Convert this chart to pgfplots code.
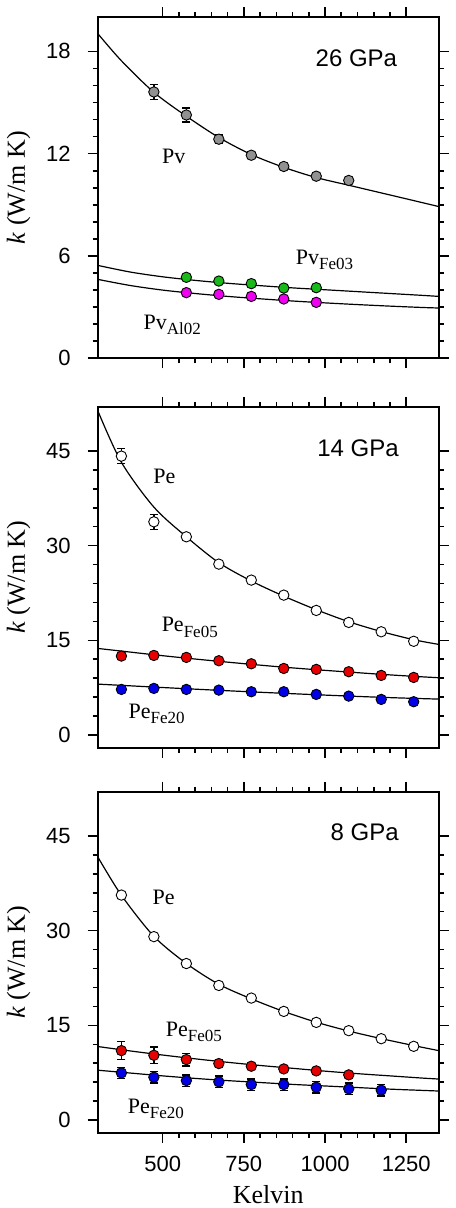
\documentclass[border=0pt]{standalone}
\usepackage{fontspec}
\setmainfont{Liberation Serif}
\setsansfont{Liberation Sans}
\usepackage{pgfplots}
\pgfplotsset{compat=1.18}
\definecolor{pvgray}{RGB}{145,145,145}
\definecolor{pvgreen}{RGB}{25,185,25}
\definecolor{pvmag}{RGB}{240,0,240}
\definecolor{pered}{RGB}{230,0,0}
\definecolor{peblue}{RGB}{0,0,230}
\tikzset{
  lab/.style={anchor=base west, inner sep=0pt, font=\fontsize{11}{13}\selectfont},
  gpa/.style={anchor=base west, inner sep=0pt, font=\sffamily\fontsize{12}{14}\selectfont},
}
\pgfplotsset{
  panel/.style={
    scale only axis, width=170.5pt, height=170.5pt,
    anchor=north west,
    xmin=300, xmax=1350,
    xtick={500,750,1000,1250}, minor x tick num=4,
    tick align=outside,
    major tick length=5pt, minor tick length=2.5pt,
    every tick/.style={black, line width=0.8pt},
    axis line style={line width=1pt},
    tick label style={font=\sffamily\fontsize{11}{13}\selectfont},
    yticklabel style={xshift=-5pt},
    xticklabel style={yshift=-3pt},
    /pgf/number format/assume math mode=true,
    /pgf/number format/set thousands separator={},
    ylabel={\textit{k} (W/m K)},
    every axis y label/.style={at={(axis description cs:-0.2135,0.5)}, rotate=90, anchor=base, font=\fontsize{13}{15}\selectfont},
    every axis x label/.style={at={(axis description cs:0.5,-0.2082)}, anchor=base, font=\fontsize{13}{15}\selectfont},
  },
  curve/.style={black, line width=0.6pt, smooth, mark=none},
  ebar/.style={draw=none, mark=none, forget plot,
    error bars/.cd, y dir=both, y explicit,
    error bar style={draw=black, line width=0.7pt},
    error mark options={draw=black, rotate=90, mark size=2pt, line width=0.7pt}},
  pts/.style={only marks, mark=*, mark size=2.6pt, mark options={draw=black, line width=0.45pt, fill=#1}},
}
\newcommand{\sub}[1]{\raisebox{-2.6pt}{\fontsize{8.5}{10}\selectfont #1}}
\begin{document}
\begin{tikzpicture}
\path[use as bounding box] (-48.85pt,8.65pt) rectangle (178.65pt,-595.35pt);
% ---------- 26 GPa ----------
\begin{axis}[panel, at={(0pt,0pt)}, ymin=0, ymax=20, ytick={0,6,12,18}, minor y tick num=5, xticklabels={}]
\addplot[curve] coordinates {(300,19.05)(373,17.45)(473,15.6)(573,14.2)(673,12.95)(773,11.95)(873,11.2)(973,10.6)(1073,10.15)(1173,9.7)(1273,9.25)(1350,8.9)};
\addplot[curve] coordinates {(300,5.45)(400,5.06)(500,4.78)(600,4.57)(700,4.4)(800,4.26)(900,4.13)(1000,4.02)(1100,3.91)(1200,3.8)(1300,3.69)(1350,3.63)};
\addplot[curve] coordinates {(300,4.63)(400,4.27)(500,4.0)(600,3.8)(700,3.63)(800,3.49)(900,3.36)(1000,3.25)(1100,3.15)(1200,3.06)(1300,2.98)(1350,2.95)};
\addplot[ebar] coordinates {(473,15.62) +- (0,0.45) (573,14.27) +- (0,0.41) (673,12.85) +- (0,0.26) (773,11.91) +- (0,0.2)};
\addplot[pts=pvgray] coordinates {(473,15.62)(573,14.27)(673,12.85)(773,11.91)(873,11.25)(973,10.68)(1073,10.43)};
\addplot[pts=pvgreen] coordinates {(573,4.75)(673,4.53)(773,4.38)(873,4.12)(973,4.14)};
\addplot[pts=pvmag] coordinates {(573,3.85)(673,3.75)(773,3.63)(873,3.48)(973,3.28)};
\node[gpa] at (axis cs:970,17.1) {26 GPa};
\node[lab] at (axis cs:497,11.42) {Pv};
\node[lab] at (axis cs:909,5.5) {Pv\sub{Fe03}};
\node[lab] at (axis cs:440,1.7) {Pv\sub{Al02}};
\end{axis}
% ---------- 14 GPa ----------
\begin{axis}[panel, at={(0pt,-194.7pt)}, ymin=-2, ymax=52, ytick={0,15,30,45}, minor y tick num=4, xticklabels={}]
\addplot[curve] coordinates {(300,51.4)(373,43.2)(473,36.1)(573,31.4)(673,27.3)(773,24.4)(873,22.0)(973,19.85)(1073,17.95)(1173,16.4)(1273,15.1)(1350,14.36)};
\addplot[curve] coordinates {(300,13.72)(373,13.3)(473,12.72)(573,12.18)(673,11.68)(773,11.2)(873,10.75)(973,10.35)(1073,9.98)(1173,9.62)(1273,9.3)(1350,9.08)};
\addplot[curve] coordinates {(300,8.07)(400,7.8)(500,7.53)(600,7.27)(700,7.02)(800,6.78)(900,6.55)(1000,6.33)(1100,6.12)(1200,5.93)(1300,5.77)(1350,5.70)};
\addplot[ebar] coordinates {(373,44.17) +- (0,1.2) (473,33.77) +- (0,1.2)};
\addplot[pts=white] coordinates {(373,44.17)(473,33.77)(573,31.4)(673,27.07)(773,24.54)(873,22.16)(973,19.74)(1073,17.84)(1173,16.36)(1273,14.85)};
\addplot[pts=pered] coordinates {(373,12.51)(473,12.61)(573,12.3)(673,11.77)(773,11.29)(873,10.55)(973,10.4)(1073,10.03)(1173,9.45)(1273,9.13)};
\addplot[pts=peblue] coordinates {(373,7.23)(473,7.39)(573,7.23)(673,7.12)(773,6.86)(873,6.86)(973,6.44)(1073,6.17)(1173,5.65)(1273,5.28)};
\node[gpa] at (axis cs:975,44.16) {14 GPa};
\node[lab] at (axis cs:470,39.8) {Pe};
\node[lab] at (axis cs:496,16.35) {Pe\sub{Fe05}};
\node[lab] at (axis cs:394,2.64) {Pe\sub{Fe20}};
\end{axis}
% ---------- 8 GPa ----------
\begin{axis}[panel, at={(0pt,-387.2pt)}, ymin=-2, ymax=52, ytick={0,15,30,45}, minor y tick num=4, xlabel={Kelvin}]
\addplot[curve] coordinates {(300,41.7)(373,35.6)(473,29.1)(573,24.8)(673,21.5)(773,19.2)(873,17.2)(973,15.5)(1073,14.1)(1173,12.9)(1273,11.8)(1350,11.0)};
\addplot[curve] coordinates {(300,11.65)(400,10.95)(500,10.3)(600,9.7)(700,9.15)(800,8.65)(900,8.2)(1000,7.75)(1100,7.35)(1200,7.0)(1300,6.65)(1350,6.5)};
\addplot[curve] coordinates {(300,7.9)(400,7.45)(500,7.0)(600,6.6)(700,6.25)(800,5.95)(900,5.65)(1000,5.4)(1100,5.15)(1200,4.9)(1300,4.7)(1350,4.6)};
\addplot[ebar] coordinates {(373,11.0) +- (0,1.4) (473,10.26) +- (0,1.3) (573,9.58) +- (0,1.0) (673,8.95) +- (0,0.6)};
\addplot[ebar] coordinates {(373,7.47) +- (0,0.9) (473,6.79) +- (0,0.9) (573,6.26) +- (0,0.9) (673,6.05) +- (0,0.9) (773,5.63) +- (0,0.9) (873,5.63) +- (0,0.9) (973,5.21) +- (0,0.9) (1073,4.95) +- (0,0.9) (1173,4.74) +- (0,0.9)};
\addplot[pts=white] coordinates {(373,35.63)(473,29.05)(573,24.79)(673,21.32)(773,19.32)(873,17.21)(973,15.47)(1073,14.16)(1173,12.89)(1273,11.68)};
\addplot[pts=pered] coordinates {(373,11.0)(473,10.26)(573,9.58)(673,8.95)(773,8.53)(873,8.1)(973,7.79)(1073,7.16)};
\addplot[pts=peblue] coordinates {(373,7.47)(473,6.79)(573,6.26)(673,6.05)(773,5.63)(873,5.63)(973,5.21)(1073,4.95)(1173,4.74)};
\node[gpa] at (axis cs:1016,44.3) {8 GPa};
\node[lab] at (axis cs:468,34.2) {Pe};
\node[lab] at (axis cs:509,13.2) {Pe\sub{Fe05}};
\node[lab] at (axis cs:392,1.0) {Pe\sub{Fe20}};
\end{axis}
\end{tikzpicture}
\end{document}
